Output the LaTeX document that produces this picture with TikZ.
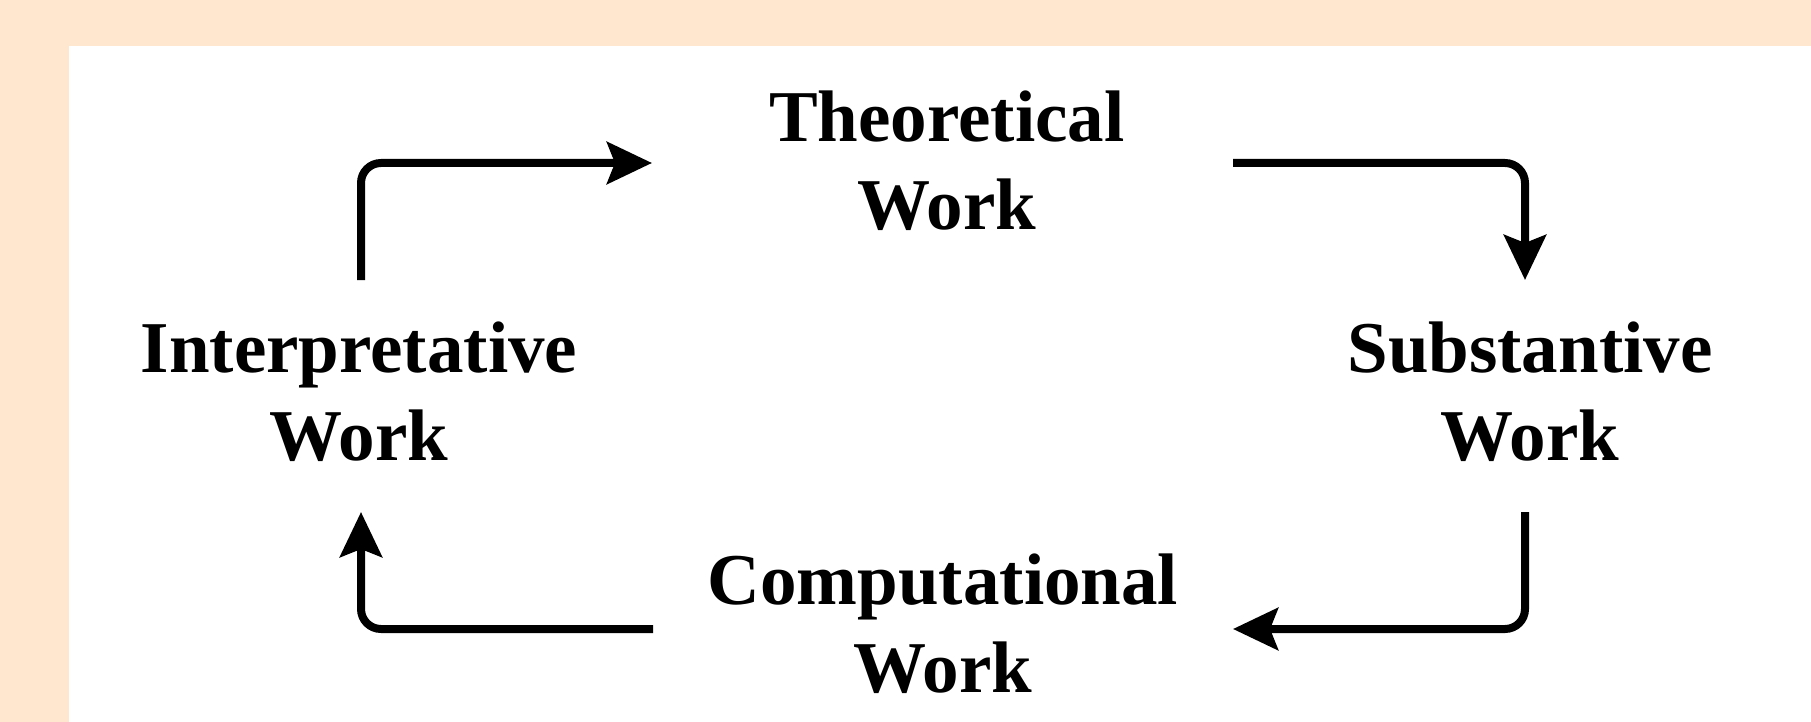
\documentclass[tikz,border=0pt]{standalone}
\usepackage{fontspec}
\setmainfont{Liberation Serif}
\usepackage{xcolor}
\usepackage{tikz}
\usetikzlibrary{arrows.meta,calc}
\definecolor{peach}{RGB}{255,230,206}
\tikzset{
  worklabel/.style={align=center, inner sep=0pt, font=\bfseries\fontsize{36.5}{44}\selectfont},
  cyclearrow/.style={-{Stealth[length=22.5pt,width=21pt,inset=4pt]}, line width=4pt, rounded corners=10pt}
}
\begin{document}
\begin{tikzpicture}[x=0.5pt,y=-0.5pt]
\fill[peach] (0,0) rectangle (1811,722);
\fill[white] (69,46) rectangle (1811,722);
\node[worklabel] (theo) at (947,161) {Theoretical\\Work};
\node[worklabel] (subst) at (1530,392) {Substantive\\Work};
\node[worklabel] (comp) at (943,624) {Computational\\Work};
\node[worklabel] (interp) at (359,392) {Interpretative\\Work};
\draw[cyclearrow] ($(interp.center)+(2,-112)$) |- ($(theo.center)+(-295,2)$);
\draw[cyclearrow] ($(theo.center)+(286,2)$) -| ($(subst.center)+(-5,-112)$);
\draw[cyclearrow] ($(subst.center)+(-5,120)$) |- ($(comp.center)+(290,5)$);
\draw[cyclearrow] ($(comp.center)+(-290,5)$) -| ($(interp.center)+(2,120)$);
\end{tikzpicture}
\end{document}
